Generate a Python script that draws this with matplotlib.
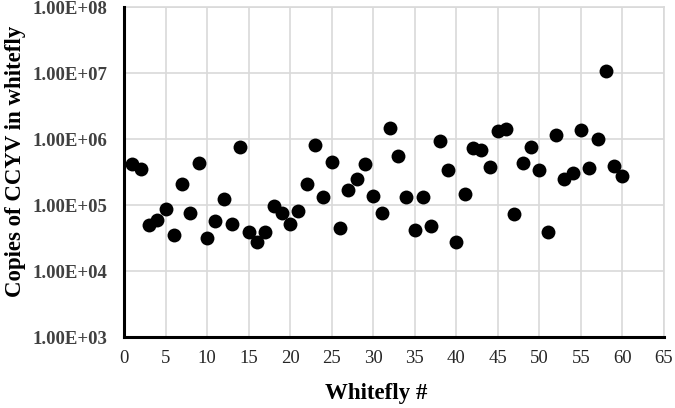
import matplotlib
matplotlib.use('Agg')
import matplotlib.pyplot as plt
from matplotlib.ticker import FixedLocator

# Whitefly number and CCYV copies
whitefly = list(range(1, 61))
copies = [4.3e5, 3.5e5, 5.0e4, 5.9e4, 8.9e4, 3.5e4, 2.1e5, 7.6e4, 4.4e5, 3.2e4,
          5.7e4, 1.24e5, 5.2e4, 7.6e5, 3.9e4, 2.8e4, 3.9e4, 9.7e4, 7.6e4, 5.3e4,
          8.3e4, 2.1e5, 8.2e5, 1.35e5, 4.6e5, 4.6e4, 1.7e5, 2.5e5, 4.3e5, 1.4e5,
          7.6e4, 1.5e6, 5.5e5, 1.35e5, 4.3e4, 1.35e5, 4.8e4, 9.3e5, 3.4e5, 2.8e4,
          1.5e5, 7.4e5, 7.0e5, 3.8e5, 1.32e6, 1.45e6, 7.3e4, 4.4e5, 7.6e5, 3.4e5,
          3.9e4, 1.16e6, 2.5e5, 3.1e5, 1.37e6, 3.7e5, 1.0e6, 1.08e7, 3.9e5, 2.8e5]

x_ticks = list(range(0, 70, 5))
y_ticks = [1e3, 1e4, 1e5, 1e6, 1e7, 1e8]
y_labels = ['1.00E+03', '1.00E+04', '1.00E+05', '1.00E+06', '1.00E+07', '1.00E+08']

serif = ['Liberation Serif', 'DejaVu Serif']

fig = plt.figure(figsize=(6.75, 4.08), dpi=100)
ax = fig.add_axes([0.1837, 0.1733, 0.8, 0.8087])

ax.scatter(whitefly, copies, s=100, color='black', zorder=3, linewidths=0)

ax.set_yscale('log')
ax.set_xlim(0, 65)
ax.set_ylim(1e3, 1e8)
ax.xaxis.set_major_locator(FixedLocator(x_ticks))
ax.yaxis.set_major_locator(FixedLocator(y_ticks))
ax.yaxis.set_minor_locator(FixedLocator([]))
ax.set_xticklabels([str(t) for t in x_ticks], family=serif, fontsize=13.5, color='#262626')
ax.set_yticklabels(y_labels, family=serif, fontsize=13.5, fontweight='bold', color='#404040')
ax.tick_params(axis='y', length=0, pad=12)
ax.tick_params(axis='x', length=0, pad=9)

ax.grid(True, color='#d9d9d9', linewidth=1.2, zorder=0)
for side in ['top', 'right']:
    ax.spines[side].set_color('#d9d9d9')
    ax.spines[side].set_linewidth(1.2)
for side in ['left', 'bottom']:
    ax.spines[side].set_color('black')
    ax.spines[side].set_linewidth(2.2)
    ax.spines[side].set_zorder(4)

ax.set_xlabel('Whitefly #', family=serif, fontsize=16.5, fontweight='bold')
ax.set_ylabel('Copies of CCYV in whitefly', family=serif, fontsize=16.5, fontweight='bold')
ax.xaxis.set_label_coords(0.467, -0.169)
ax.yaxis.set_label_coords(-0.2, 0.534)
ax.xaxis.label.set_va('center')
ax.yaxis.label.set_va('center')

fig.savefig('out.png', dpi=100)
